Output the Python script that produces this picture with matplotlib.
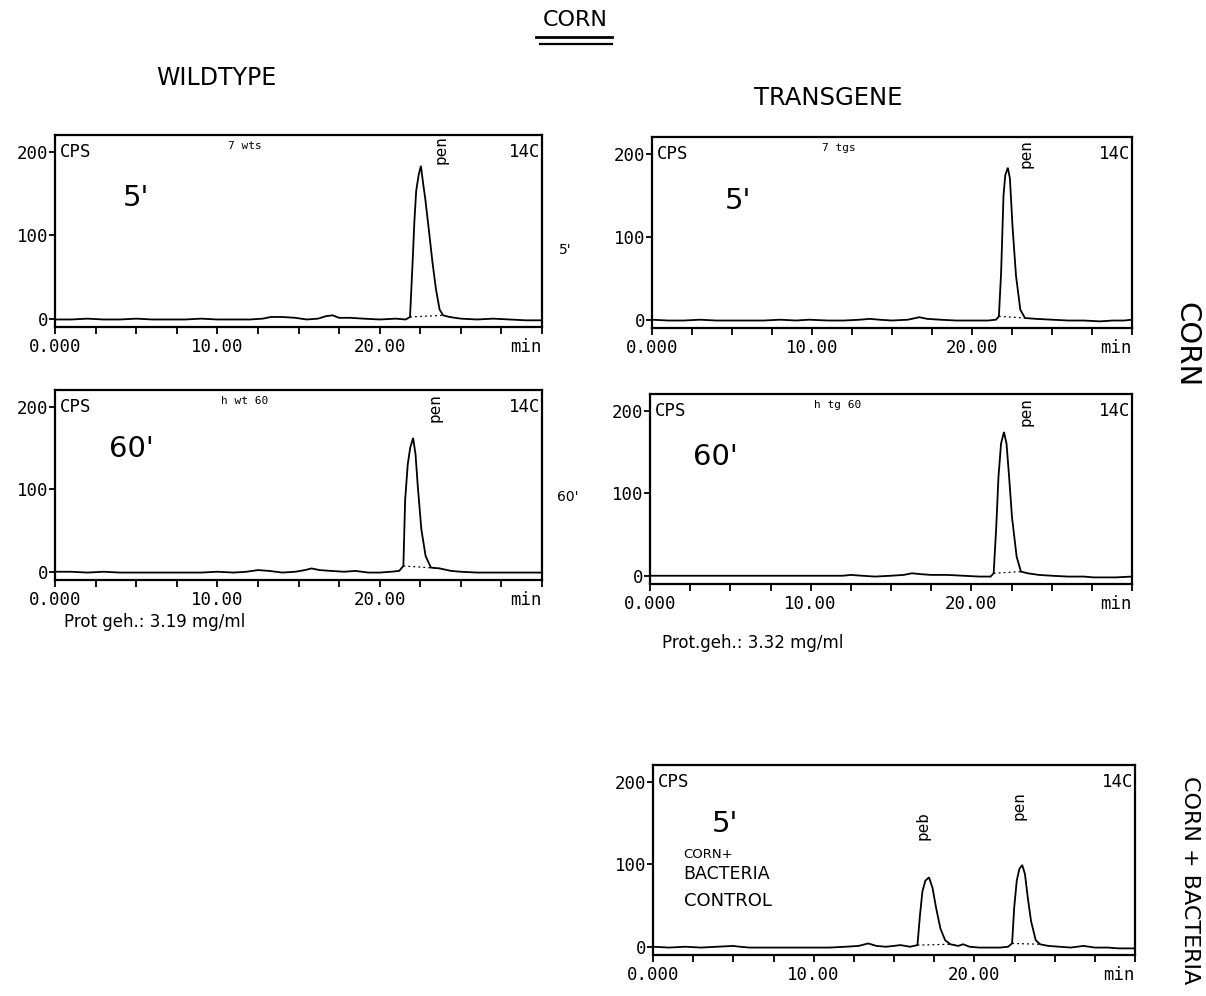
import numpy as np
import matplotlib
matplotlib.use("Agg")
import matplotlib.pyplot as plt
from matplotlib.lines import Line2D

# ---------------- data ----------------
# Panel 1: wildtype, 5'
t1 = [0, 1, 2, 3, 4, 5, 6, 7, 8, 9, 10, 11, 12, 12.8, 13.3, 14.0, 14.8, 15.5, 16.2, 16.7, 17.1,
      17.5, 18.2, 19, 20, 21, 21.6, 21.87, 22.03, 22.14, 22.25, 22.40, 22.54, 22.69, 22.80, 23.02,
      23.25, 23.47, 23.69, 23.91, 24.3, 25, 26, 27, 28, 29, 30]
y1 = [-1, -1, 0, -1, -1, 0, -1, -1, -1, 0, -1, -1, -1, 0, 2, 2, 1, -1, 0, 3, 4,
      1, 1, 0, -1, 0, -1, 2, 68, 117, 153, 172, 183, 160, 145, 108,
      68, 35, 11, 4, 2, 0, -1, 0, -1, -2, -2]
# Panel 2: transgene, 5'
t2 = [0, 1, 2, 3, 4, 5, 6, 7, 8, 9, 9.8, 11, 12, 13, 13.6, 14.2, 15, 16, 16.7, 17.2, 18, 19, 20,
      21, 21.5, 21.68, 21.82, 21.97, 22.08, 22.24, 22.37, 22.53, 22.75, 23.02, 23.31, 24, 25, 26,
      27, 28, 28.8, 29.5, 30]
y2 = [0, -1, -1, 0, -1, -1, -1, -1, 0, -1, 0, -1, -1, 0, 1, 0, -1, 0, 3, 1, 0, -1, -1,
      -1, 0, 4, 57, 150, 174, 183, 170, 113, 53, 12, 2, 1, 0, -1,
      -1, -2, -1, -1, 0]
# Panel 3: wildtype, 60'
t3 = [0, 1, 2, 3, 4, 5, 6, 7, 8, 9, 10, 11, 11.8, 12.5, 13.2, 14, 14.8, 15.4, 15.8, 16.3, 17,
      17.8, 18.5, 19.3, 20, 20.7, 21.2, 21.46, 21.57, 21.73, 21.88, 22.06, 22.21, 22.35, 22.57,
      22.83, 23.16, 23.7, 24.4, 25, 26, 27, 28, 29, 30]
y3 = [0, 0, -1, 0, -1, -1, -1, -1, -1, -1, 0, -1, 0, 2, 1, -1, 0, 2, 4, 2, 1,
      0, 1, -1, -1, 0, 1, 7, 87, 130, 150, 162, 142, 103, 51,
      19, 5, 4, 1, 0, -1, -1, -1, -1, -1]
# Panel 4: transgene, 60'
t4 = [0, 1, 2, 3, 4, 5, 6, 7, 8, 9, 10, 11, 12, 12.5, 13.2, 14, 15, 15.8, 16.3, 16.8, 17.5, 18.5,
      19.5, 20.5, 21.2, 21.39, 21.55, 21.69, 21.85, 22.03, 22.19, 22.35, 22.53, 22.82, 23.09, 23.5,
      24.2, 25, 26, 27, 27.6, 28.2, 29, 30]
y4 = [0, 0, 0, 0, 0, 0, 0, 0, 0, 0, 0, 0, 0, 1, 0, -1, 0, 1, 3, 2, 1, 1,
      0, -1, -1, 3, 59, 120, 160, 174, 160, 120, 71, 23, 5, 3,
      1, 0, -1, -1, -2, -2, -2, -1]
# Panel 5: corn + bacteria control, 5'
t5 = [0, 1, 2, 3, 4, 5, 5.4, 6, 7, 8, 9, 10, 11, 12, 12.8, 13.4, 13.9, 14.5, 15, 15.4, 16, 16.46,
      16.62, 16.77, 16.95, 17.18, 17.40, 17.62, 17.89, 18.18, 18.51, 19, 19.3, 19.7, 20.3, 21, 21.6,
      22.1, 22.35, 22.48, 22.64, 22.80, 22.98, 23.15, 23.33, 23.53, 23.82, 24.09, 24.6, 25.3, 26,
      26.8, 27.5, 28.3, 29, 30]
y5 = [0, -1, 0, -1, 0, 1, 0, -1, -1, -1, -1, -1, -1, 0, 1, 4, 1, 0, 1, 2, 0, 2,
      39, 67, 80, 84, 71, 47, 22, 8, 3, 1, 3, 0, -1, -1, -1,
      0, 4, 47, 80, 94, 99, 88, 59, 31, 8, 3, 1, 0, -1,
      1, -1, -1, -2, -2]

# integration windows (peak start / end, min)
win1 = [(21.87, 23.91)]
win2 = [(21.68, 23.31)]
win3 = [(21.46, 23.70)]
win4 = [(21.39, 23.09)]
win5 = [(16.46, 18.51), (22.35, 24.09)]

# peak labels: (name, retention position, top of label in CPS)
peaks1 = [("pen", 23.8, 220)]
peaks2 = [("pen", 23.4, 218)]
peaks3 = [("pen", 23.4, 216)]
peaks4 = [("pen", 23.4, 216)]
peaks5 = [("peb", 16.8, 164), ("pen", 22.75, 188)]

headers = ["7 wts", "7 tgs", "h wt 60", "h tg 60", ""]
times_hand = ["5'", "5'", "60'", "60'", "5'"]

x_ticks = [0, 2.5, 5, 7.5, 10, 12.5, 15, 17.5, 20, 22.5, 25, 27.5, 30]
x_labels = ["0.000", "", "", "", "10.00", "", "", "", "20.00", "", "", "", "min"]
y_ticks = [0, 100, 200]
y_labels = ["0", "100", "200"]

# ---------------- figure ----------------
W, H = 1206, 996
fig = plt.figure(figsize=(W / 100, H / 100), dpi=100)
fig.patch.set_facecolor("white")

MONO = "DejaVu Sans Mono"
HAND = "DejaVu Sans"

def px_axes(l, r, t, b):
    return fig.add_axes([l / W, 1 - b / H, (r - l) / W, (b - t) / H])

panels = [
    (px_axes(55, 542, 135, 327), t1, y1, win1, peaks1),
    (px_axes(652, 1132, 137, 328), t2, y2, win2, peaks2),
    (px_axes(55, 542, 390, 580), t3, y3, win3, peaks3),
    (px_axes(650, 1132, 394, 584), t4, y4, win4, peaks4),
    (px_axes(653, 1135, 765, 955), t5, y5, win5, peaks5),
]

for i, (ax, t, y, wins, pks) in enumerate(panels):
    ax.plot(t, y, color="black", lw=1.3, solid_joinstyle="miter")
    for (a, b) in wins:
        ax.plot([a, b], [np.interp(a, t, y), np.interp(b, t, y)], color="black",
                lw=0.9, ls=(0, (1.5, 2.5)))
    ax.set_xlim(0, 30)
    ax.set_ylim(-10, 220)
    ax.set_xticks(x_ticks)
    ax.set_xticklabels(x_labels, fontfamily=MONO, fontsize=12.5)
    labs = ax.get_xticklabels()
    labs[-1].set_ha("right")
    ax.set_yticks(y_ticks)
    ax.set_yticklabels(y_labels, fontfamily=MONO, fontsize=12.5)
    ax.tick_params(axis="x", direction="out", length=5, width=1.3, pad=3)
    ax.tick_params(axis="y", direction="out", length=4, width=1.3, pad=1)
    for s in ax.spines.values():
        s.set_linewidth(1.6)
        s.set_color("black")
    ax.text(0.3, 200, "CPS", fontfamily=MONO, fontsize=12.5, ha="left", va="center")
    ax.text(29.9, 200, "14C", fontfamily=MONO, fontsize=12.5, ha="right", va="center")
    if headers[i]:
        ax.text(11.7, 207, headers[i], fontfamily=MONO, fontsize=8, ha="center", va="center")
    for name, xp, ytop in pks:
        ax.text(xp, ytop, name, rotation=90, fontfamily=MONO, fontsize=11.5,
                ha="center", va="top")

# handwritten elapsed-time marks
hand_pos = [(5.0, 145), (5.4, 143), (4.7, 148), (4.1, 144), (4.5, 149)]
for (ax, *_), lab, (hx, hy) in zip(panels, times_hand, hand_pos):
    ax.text(hx, hy, lab, fontfamily=HAND, fontsize=21, ha="center", va="center")

ax5 = panels[4][0]
ax5.text(1.9, 112, "CORN+", fontfamily=HAND, fontsize=9.5, ha="left", va="center")
ax5.text(1.9, 88, "BACTERIA", fontfamily=HAND, fontsize=12.5, ha="left", va="center")
ax5.text(1.9, 55, "CONTROL", fontfamily=HAND, fontsize=13, ha="left", va="center")

# figure-level annotations
def ftext(x, y, s, **kw):
    fig.text(x / W, 1 - y / H, s, **kw)

ftext(575, 20, "CORN", fontfamily=HAND, fontsize=16, ha="center", va="center")
fig.add_artist(Line2D([536 / W, 612 / W], [1 - 37 / H, 1 - 37 / H], color="black", lw=2))
fig.add_artist(Line2D([540 / W, 612 / W], [1 - 44 / H, 1 - 44 / H], color="black", lw=1.6))
ftext(216, 78, "WILDTYPE", fontfamily=HAND, fontsize=17, ha="center", va="center")
ftext(828, 98, "TRANSGENE", fontfamily=HAND, fontsize=17.5, ha="center", va="center")
ftext(1186, 345, "CORN", fontfamily=HAND, fontsize=21, ha="center", va="center", rotation=-90)
ftext(1190, 880, "CORN + BACTERIA", fontfamily=HAND, fontsize=16, ha="center", va="center",
      rotation=-90)
ftext(565, 250, "5'", fontfamily=HAND, fontsize=10, ha="center", va="center")
ftext(568, 497, "60'", fontfamily=HAND, fontsize=10, ha="center", va="center")
ftext(64, 622, "Prot geh.: 3.19 mg/ml", fontfamily=HAND, fontsize=12, ha="left", va="center")
ftext(662, 643, "Prot.geh.: 3.32 mg/ml", fontfamily=HAND, fontsize=12, ha="left", va="center")

fig.savefig("out.png", dpi=100, facecolor="white")
